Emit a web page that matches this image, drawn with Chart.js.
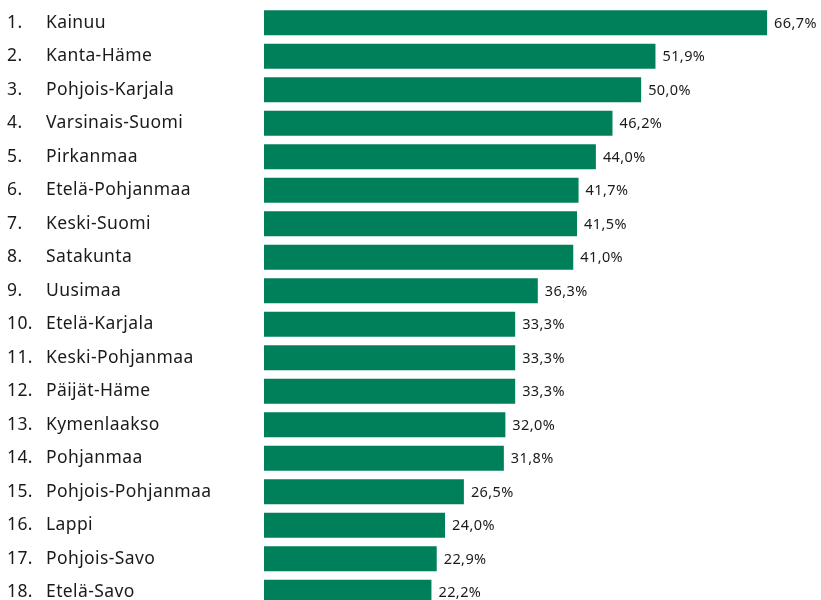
<!DOCTYPE html>
<html>
<head>
<meta charset="utf-8">
<script src="https://cdn.jsdelivr.net/npm/chart.js@4"></script>
<style>
  html, body { margin: 0; padding: 0; background: #fff; overflow: hidden; }
  #wrap { width: 821px; height: 613px; }
</style>
</head>
<body>
<div id="wrap"><canvas id="regions"></canvas></div>
<script>
var ranks = ["1.", "2.", "3.", "4.", "5.", "6.", "7.", "8.", "9.", "10.", "11.", "12.", "13.", "14.", "15.", "16.", "17.", "18."];
var regions = ["Kainuu", "Kanta-Häme", "Pohjois-Karjala", "Varsinais-Suomi", "Pirkanmaa", "Etelä-Pohjanmaa",
  "Keski-Suomi", "Satakunta", "Uusimaa", "Etelä-Karjala", "Keski-Pohjanmaa", "Päijät-Häme",
  "Kymenlaakso", "Pohjanmaa", "Pohjois-Pohjanmaa", "Lappi", "Pohjois-Savo", "Etelä-Savo"];
var shares = [66.7, 51.9, 50.0, 46.2, 44.0, 41.7, 41.5, 41.0, 36.3, 33.3, 33.3, 33.3, 32.0, 31.8, 26.5, 24.0, 22.9, 22.2];

var fontFam = "'Noto Sans', sans-serif";

// rank + name on the left, value at the end of each bar
var labelsPlugin = {
  id: 'labels',
  afterDatasetsDraw: function(chart) {
    var ctx = chart.ctx;
    var y = chart.scales.y;
    var meta = chart.getDatasetMeta(0);
    ctx.save();
    ctx.fillStyle = '#1a1a1a';
    ctx.textBaseline = 'middle';
    ctx.textAlign = 'left';
    regions.forEach(function(name, i) {
      var py = y.getPixelForValue(i);
      ctx.font = "17.5px " + fontFam;
      ctx.letterSpacing = '0.4px';
      ctx.fillText(ranks[i], 7, py);
      ctx.fillText(name, 46, py);
      var bar = meta.data[i];
      ctx.font = "14.5px " + fontFam;
      ctx.letterSpacing = '0.4px';
      ctx.fillText(shares[i].toFixed(1).replace('.', ',') + '%', bar.x + 7, py + 1);
    });
    ctx.restore();
  }
};

var ctx = document.getElementById("regions").getContext('2d');
var myChart = new Chart(ctx, {
  type: 'bar',
  data: {
    labels: regions,
    datasets: [{
      data: shares,
      backgroundColor: '#00805a',
      borderWidth: 0,
      barPercentage: 0.74,
      categoryPercentage: 1.0
    }]
  },
  options: {
    indexAxis: 'y',
    responsive: true,
    maintainAspectRatio: false,
    animation: false,
    layout: { padding: { left: 264, right: 29, top: 6, bottom: 4 } },
    plugins: { legend: { display: false }, tooltip: { enabled: false } },
    scales: {
      x: { display: false, min: 0, max: 70 },
      y: { display: false }
    }
  },
  plugins: [labelsPlugin]
});
</script>
</body>
</html>
